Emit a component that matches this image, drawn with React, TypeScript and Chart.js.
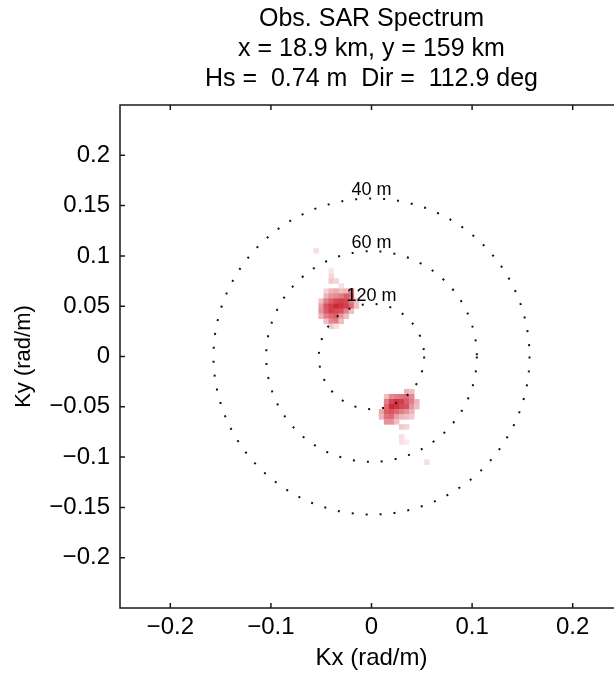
import React, { useEffect, useRef } from "react";
import { Chart, registerables } from "chart.js";

Chart.register(...registerables);

// ---------- text ----------
const titleLines = [
  "Obs. SAR Spectrum",
  "x = 18.9 km, y = 159 km",
  "Hs =  0.74 m  Dir =  112.9 deg",
];
const xAxisTitle = "Kx (rad/m)";
const yAxisTitle = "Ky (rad/m)";

// ---------- axes ----------
const axisMin = -0.25;
const axisMax = 0.25;
const xTickValues = [-0.2, -0.1, 0, 0.1, 0.2];
const xTickLabels = ["\u22120.2", "\u22120.1", "0", "0.1", "0.2"];
const yTickValues = [-0.2, -0.15, -0.1, -0.05, 0, 0.05, 0.1, 0.15, 0.2];
const yTickLabels = [
  "\u22120.2", "\u22120.15", "\u22120.1", "\u22120.05", "0",
  "0.05", "0.1", "0.15", "0.2",
];

// ---------- wavelength reference circles ----------
const wavelengths = [40, 60, 120]; // metres
const wavelengthLabels = ["40 m", "60 m", "120 m"];

// ---------- spectrum cells (normalised energy 0..1) ----------
// lobe 1 (upper-left)
const lobe1Kx = [-0.055, -0.05, -0.045, -0.04, -0.035, -0.03, -0.025, -0.02, -0.015];
const lobe1Ky = [0.105, 0.085, 0.08, 0.075, 0.07, 0.065, 0.06, 0.055, 0.05, 0.045, 0.04, 0.035, 0.03];
const lobe1Power = [
  [0.15, 0, 0, 0, 0, 0, 0, 0, 0],
  [0, 0, 0, 0.12, 0, 0, 0, 0, 0],
  [0, 0, 0, 0.18, 0, 0, 0, 0, 0],
  [0, 0, 0, 0.25, 0.2, 0, 0, 0, 0],
  [0, 0, 0, 0, 0, 0.15, 0, 0, 0],
  [0, 0, 0.2, 0.35, 0.4, 0.3, 0.35, 0.6, 0],
  [0, 0, 0.35, 0.5, 0.55, 0.6, 0.75, 0.7, 0],
  [0, 0.3, 0.6, 0.75, 0.85, 0.9, 0.85, 0.6, 0.3],
  [0, 0.45, 0.8, 0.9, 1.0, 0.95, 0.9, 0.7, 0.3],
  [0, 0.5, 0.75, 0.9, 0.85, 0.8, 0.6, 0.3, 0],
  [0, 0.35, 0.6, 0.7, 0.75, 0.5, 0.3, 0, 0],
  [0, 0, 0.3, 0.55, 0.6, 0.3, 0, 0, 0],
  [0, 0, 0, 0.25, 0.15, 0, 0, 0, 0],
];
// lobe 2 (lower-right)
const lobe2Kx = [0.01, 0.015, 0.02, 0.025, 0.03, 0.035, 0.04, 0.045, 0.05, 0.055];
const lobe2Ky = [-0.035, -0.04, -0.045, -0.05, -0.055, -0.06, -0.065, -0.07, -0.08, -0.085, -0.105];
const lobe2Power = [
  [0, 0, 0, 0, 0, 0.35, 0.3, 0, 0, 0],
  [0, 0.3, 0.55, 0.6, 0.65, 0.7, 0.55, 0, 0, 0],
  [0, 0.6, 0.85, 0.95, 0.9, 0.75, 0.6, 0.35, 0, 0],
  [0, 0.7, 1.0, 0.95, 0.85, 0.8, 0.5, 0.3, 0, 0],
  [0.4, 0.75, 0.8, 0.7, 0.6, 0.5, 0.35, 0, 0, 0],
  [0.35, 0.65, 0.7, 0.45, 0.35, 0.3, 0.25, 0, 0, 0],
  [0, 0.5, 0.5, 0.3, 0, 0, 0, 0, 0, 0],
  [0, 0, 0, 0, 0.25, 0.2, 0, 0, 0, 0],
  [0, 0, 0, 0, 0.15, 0, 0, 0, 0, 0],
  [0, 0, 0, 0, 0.15, 0.1, 0, 0, 0, 0],
  [0, 0, 0, 0, 0, 0, 0, 0, 0, 0.15],
];

const FONT = '"Liberation Sans", Arial, Helvetica, sans-serif';

function powerColor(v: number): string {
  const r = Math.round(255 - v * 50);
  const g = Math.round(255 - v * 215);
  const b = Math.round(255 - v * 200);
  return `rgb(${r},${g},${b})`;
}

function buildCells(cols: number[], rows: number[], power: number[][]) {
  const pts: { x: number; y: number }[] = [];
  const colors: string[] = [];
  rows.forEach((ky, r) => {
    cols.forEach((kx, c) => {
      const v = power[r][c];
      if (v > 0) {
        pts.push({ x: kx, y: ky });
        colors.push(powerColor(v));
      }
    });
  });
  return { pts, colors };
}

const overlayPlugin = {
  id: "sarOverlay",
  afterDatasetsDraw(chart: any) {
    const { ctx, scales } = chart;
    const xs = scales.x;
    const ys = scales.y;
    const cx = xs.getPixelForValue(0);
    const cy = ys.getPixelForValue(0);
    ctx.save();
    ctx.strokeStyle = "#111";
    ctx.lineWidth = 2;
    ctx.lineCap = "butt";
    ctx.setLineDash([2, 12]);
    wavelengths.forEach((L) => {
      const k = (2 * Math.PI) / L;
      const r = xs.getPixelForValue(k) - cx;
      ctx.beginPath();
      ctx.arc(cx, cy, r, 0, 2 * Math.PI);
      ctx.stroke();
    });
    ctx.setLineDash([]);
    ctx.fillStyle = "#000";
    ctx.font = `18px ${FONT}`;
    ctx.textAlign = "center";
    ctx.textBaseline = "alphabetic";
    wavelengths.forEach((L, i) => {
      const k = (2 * Math.PI) / L;
      ctx.fillText(wavelengthLabels[i], cx, ys.getPixelForValue(k) - 3);
    });
    ctx.restore();
  },
  afterDraw(chart: any) {
    const { ctx, chartArea: a, scales } = chart;
    const xs = scales.x;
    const ys = scales.y;
    ctx.save();
    ctx.strokeStyle = "#1a1a1a";
    ctx.lineWidth = 1.5;
    ctx.strokeRect(a.left, a.top, a.right - a.left, a.bottom - a.top);
    ctx.beginPath();
    xTickValues.forEach((v) => {
      const px = xs.getPixelForValue(v);
      ctx.moveTo(px, a.bottom);
      ctx.lineTo(px, a.bottom - 5);
      ctx.moveTo(px, a.top);
      ctx.lineTo(px, a.top + 5);
    });
    yTickValues.forEach((v) => {
      const py = ys.getPixelForValue(v);
      ctx.moveTo(a.left, py);
      ctx.lineTo(a.left + 5, py);
      ctx.moveTo(a.right, py);
      ctx.lineTo(a.right - 5, py);
    });
    ctx.stroke();
    ctx.restore();
  },
};

export default function App() {
  const canvasRef = useRef<HTMLCanvasElement | null>(null);

  useEffect(() => {
    if (!canvasRef.current) return;
    const l1 = buildCells(lobe1Kx, lobe1Ky, lobe1Power);
    const l2 = buildCells(lobe2Kx, lobe2Ky, lobe2Power);
    const ds = (cells: { pts: any[]; colors: string[] }) => ({
      data: cells.pts,
      backgroundColor: cells.colors,
      borderWidth: 0,
      pointStyle: "rect",
      pointRadius: 3.9,
      pointHoverRadius: 3.9,
    });
    const chart = new Chart(canvasRef.current, {
      type: "scatter",
      data: { datasets: [ds(l1) as any, ds(l2) as any] },
      options: {
        animation: false,
        responsive: false,
        devicePixelRatio: 1,
        events: [],
        layout: { padding: { left: 0, right: 37, top: 0, bottom: 0 } },
        plugins: {
          legend: { display: false },
          tooltip: { enabled: false },
          title: {
            display: true,
            text: titleLines,
            color: "#000",
            fullSize: false,
            font: { family: FONT, size: 25, weight: "normal", lineHeight: 1.2 },
            padding: { top: 4, bottom: 11 },
          },
        },
        scales: {
          x: {
            type: "linear",
            position: "bottom",
            min: axisMin,
            max: axisMax,
            afterBuildTicks: (s: any) => {
              s.ticks = xTickValues.map((v) => ({ value: v }));
            },
            afterFit: (s: any) => {
              s.height = 74;
            },
            grid: { display: false, drawTicks: false },
            border: { display: false },
            ticks: {
              autoSkip: false,
              maxRotation: 0,
              padding: 5,
              color: "#000",
              font: { family: FONT, size: 24 },
              callback: (_v: any, i: number) => xTickLabels[i],
            },
            title: {
              display: true,
              text: xAxisTitle,
              color: "#000",
              font: { family: FONT, size: 24 },
              padding: { top: 0, bottom: 9 },
            },
          },
          y: {
            type: "linear",
            position: "left",
            min: axisMin,
            max: axisMax,
            afterBuildTicks: (s: any) => {
              s.ticks = yTickValues.map((v) => ({ value: v }));
            },
            afterFit: (s: any) => {
              s.width = 120;
            },
            grid: { display: false, drawTicks: false },
            border: { display: false },
            ticks: {
              autoSkip: false,
              padding: 10,
              color: "#000",
              font: { family: FONT, size: 24 },
              callback: (_v: any, i: number) => yTickLabels[i],
            },
            title: {
              display: true,
              text: yAxisTitle,
              color: "#000",
              font: { family: FONT, size: 22 },
              padding: { top: 11, bottom: 0 },
            },
          },
        },
      } as any,
      plugins: [overlayPlugin as any],
    });
    return () => chart.destroy();
  }, []);

  return (
    <div
      style={{
        position: "fixed",
        left: 0,
        top: 0,
        width: 614,
        height: 682,
        overflow: "hidden",
        background: "#fff",
      }}
    >
      <canvas
        ref={canvasRef}
        width={660}
        height={682}
        style={{ display: "block", width: 660, height: 682 }}
      />
    </div>
  );
}
